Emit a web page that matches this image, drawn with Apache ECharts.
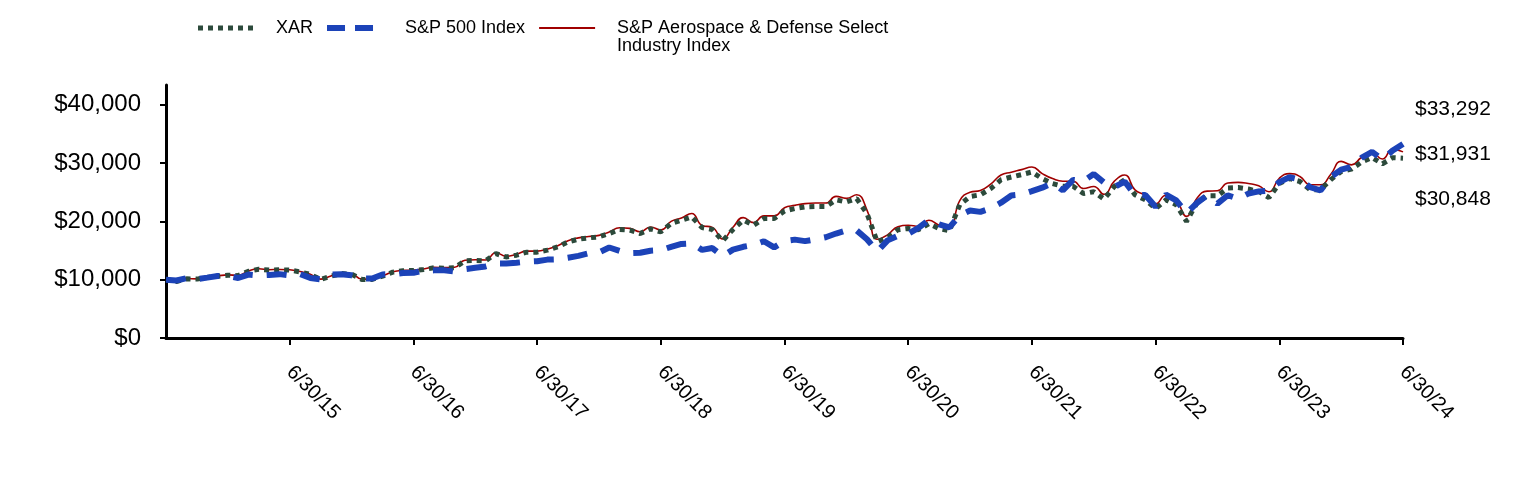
<!DOCTYPE html>
<html>
<head>
<meta charset="utf-8">
<script src="https://cdn.jsdelivr.net/npm/echarts@6/dist/echarts.min.js"></script>
<style>
html,body{margin:0;padding:0;background:#fff;}
#chart{width:1524px;height:480px;}
</style>
</head>
<body>
<div id="chart"></div>
<script>
const categories = [
"6/30/14","7/31/14","8/31/14","9/30/14","10/31/14","11/30/14","12/31/14",
"1/31/15","2/28/15","3/31/15","4/30/15","5/31/15","6/30/15","7/31/15","8/31/15","9/30/15","10/31/15","11/30/15","12/31/15",
"1/31/16","2/29/16","3/31/16","4/30/16","5/31/16","6/30/16","7/31/16","8/31/16","9/30/16","10/31/16","11/30/16","12/31/16",
"1/31/17","2/28/17","3/31/17","4/30/17","5/31/17","6/30/17","7/31/17","8/31/17","9/30/17","10/31/17","11/30/17","12/31/17",
"1/31/18","2/28/18","3/31/18","4/30/18","5/31/18","6/30/18","7/31/18","8/31/18","9/30/18","10/31/18","11/30/18","12/31/18",
"1/31/19","2/28/19","3/31/19","4/30/19","5/31/19","6/30/19","7/31/19","8/31/19","9/30/19","10/31/19","11/30/19","12/31/19",
"1/31/20","2/29/20","3/31/20","4/30/20","5/31/20","6/30/20","7/31/20","8/31/20","9/30/20","10/31/20","11/30/20","12/31/20",
"1/31/21","2/28/21","3/31/21","4/30/21","5/31/21","6/30/21","7/31/21","8/31/21","9/30/21","10/31/21","11/30/21","12/31/21",
"1/31/22","2/28/22","3/31/22","4/30/22","5/31/22","6/30/22","7/31/22","8/31/22","9/30/22","10/31/22","11/30/22","12/31/22",
"1/31/23","2/28/23","3/31/23","4/30/23","5/31/23","6/30/23","7/31/23","8/31/23","9/30/23","10/31/23","11/30/23","12/31/23",
"1/31/24","2/29/24","3/31/24","4/30/24","5/31/24","6/30/24"
];

const xarValues = [
10000,9700,10150,10100,10400,10600,10780,
10700,11450,11800,11650,11700,11650,11350,10900,10050,10600,11050,10950,
10050,10050,10600,11300,11530,11580,11760,12040,11980,12040,13240,13300,
13240,14470,13900,14210,14730,14730,15070,15640,16490,16950,17180,17350,
17920,18610,18500,17920,18720,18200,19640,20210,20780,18950,18610,16670,
18610,20210,19350,20500,20500,21800,22200,22490,22550,22550,23700,23340,
23920,21350,16490,17240,18580,18780,18580,19600,18780,18400,22860,24280,
24570,25630,27140,27620,28030,28480,27340,26490,26030,26030,24780,25100,
23830,26000,27140,24570,23700,22200,23700,22860,20000,23150,24400,24400,
25720,25800,25550,25140,24090,26490,27350,26850,25430,25430,27170,28560,
28970,30190,30940,29880,30940,30848
];

const sp500Values = [
10000,9862,10256,10113,10360,10638,10611,
10293,10885,10713,10816,10955,10743,10969,10308,10053,10901,10934,10761,
10227,10214,10906,10948,11145,11174,11586,11602,11605,11394,11816,12050,
12279,12766,12781,12913,13095,13176,13447,13489,13767,14088,14520,14681,
15522,14949,14569,14625,14977,15070,15631,16141,16233,15122,15430,14037,
15161,15648,15952,16598,15544,16640,16880,16613,16924,17291,17919,18460,
18452,16934,14842,16745,17543,17892,18901,20260,19490,18972,21049,21857,
21636,22233,23207,24446,24617,25191,25790,26574,25338,27114,26927,28133,
26678,25880,26840,24500,24545,22520,24597,23593,21420,23155,24448,23040,
24487,23890,24767,25153,25261,26740,27600,27160,25860,25320,27630,28880,
29370,30940,31930,30630,32150,33292
];

const aeroValues = [
10000,9750,10200,10150,10450,10650,10830,
10750,11500,11880,11720,11760,11700,11400,10950,10100,10650,11100,11000,
10100,10100,10650,11350,11600,11650,11850,12130,12070,12130,13350,13420,
13370,14620,14050,14370,14900,14900,15250,15840,16700,17180,17420,17600,
18200,18900,18800,18220,19050,18520,20000,20600,21350,19300,18980,17000,
19000,20650,19800,20950,20950,22350,22750,23050,23150,23150,24300,23950,
24570,21950,16950,17700,19100,19350,19150,20200,19350,18950,23550,25000,
25300,26400,27950,28450,28880,29340,28200,27350,26900,26900,25650,26000,
24650,26900,27950,25400,24500,23000,24500,23600,20860,23950,25200,25250,
26600,26700,26500,26100,25100,27400,28200,27700,26300,26300,28100,30300,
29700,31000,31700,30700,32400,31931
];

const yTicks = [0, 10000, 20000, 30000, 40000];
const seriesNames = ["XAR", "S&P 500 Index", "S&P Aerospace & Defense Select Industry Index"];

const FONT = '"Liberation Sans", Arial, sans-serif';
const money = v => '$' + Math.round(v).toLocaleString('en-US');

const chart = echarts.init(document.getElementById('chart'), null, {renderer: 'canvas'});
chart.setOption({
  animation: false,
  backgroundColor: '#ffffff',
  textStyle: {fontFamily: FONT, color: '#000'},
  legend: {
    left: 198,
    top: 1,
    padding: 0,
    itemWidth: 56,
    itemHeight: 14,
    itemGap: 14,
    itemStyle: {borderWidth: 0},
    textStyle: {fontFamily: FONT, fontSize: 18, color: '#000', padding: [0, 0, 0, 17], lineHeight: 18},
    data: [
      {name: seriesNames[0], icon: 'path://M0,0h5v5h-5zM10,0h5v5h-5zM20,0h5v5h-5zM30,0h5v5h-5zM40,0h5v5h-5zM50,0h5v5h-5zM56,0v5'},
      {name: seriesNames[1], icon: 'path://M0,0h18v6h-18zM28,0h18v6h-18zM56,0v6'},
      {name: seriesNames[2], icon: 'path://M0,0h56v2h-56z'}
    ],
    formatter: function (name) {
      return name === seriesNames[2] ? ' \nS&P Aerospace & Defense Select\nIndustry Index' : name;
    }
  },
  grid: {left: 166, right: 121, top: 85, bottom: 142, containLabel: false},
  xAxis: {
    type: 'category',
    data: categories,
    boundaryGap: false,
    axisLine: {show: true, lineStyle: {color: '#000', width: 3}},
    axisTick: {
      show: true, length: 7, lineStyle: {color: '#000', width: 2},
      interval: function (idx) { return idx > 0 && idx % 12 === 0; }
    },
    axisLabel: {
      show: true, rotate: -45, margin: 31, fontSize: 20, color: '#000', fontFamily: FONT,
      interval: function (idx) { return idx > 0 && idx % 12 === 0; }
    },
    splitLine: {show: false}
  },
  yAxis: {
    type: 'value',
    min: 0,
    max: 43400,
    axisLine: {show: true, lineStyle: {color: '#000', width: 3}},
    axisTick: {show: true, length: 6, lineStyle: {color: '#000', width: 2}, customValues: yTicks},
    axisLabel: {show: true, fontSize: 24, color: '#000', fontFamily: FONT, margin: 25, customValues: yTicks, formatter: money},
    splitLine: {show: false}
  },
  series: [
    {
      name: seriesNames[2], type: 'line', data: aeroValues, symbol: 'none', smooth: 0.5, z: 2,
      lineStyle: {color: '#a00000', width: 1.6},
      itemStyle: {color: '#a00000', borderWidth: 0},
      endLabel: {show: true, formatter: p => money(p.value), fontSize: 21, color: '#000', fontFamily: FONT, offset: [4, 2]}
    },
    {
      name: seriesNames[0], type: 'line', data: xarValues, symbol: 'none', z: 3,
      lineStyle: {color: '#2c4a3b', width: 5, type: [5, 5], cap: 'butt'},
      itemStyle: {color: '#2c4a3b', borderWidth: 0},
      endLabel: {show: true, formatter: p => money(p.value), fontSize: 21, color: '#000', fontFamily: FONT, offset: [4, 41]}
    },
    {
      name: seriesNames[1], type: 'line', data: sp500Values, symbol: 'none', z: 4,
      lineStyle: {color: '#1c43b8', width: 6, type: [20, 14], cap: 'butt'},
      itemStyle: {color: '#1c43b8', borderWidth: 0},
      endLabel: {show: true, formatter: p => money(p.value), fontSize: 21, color: '#000', fontFamily: FONT, offset: [4, -35]}
    }
  ]
});
</script>
</body>
</html>
